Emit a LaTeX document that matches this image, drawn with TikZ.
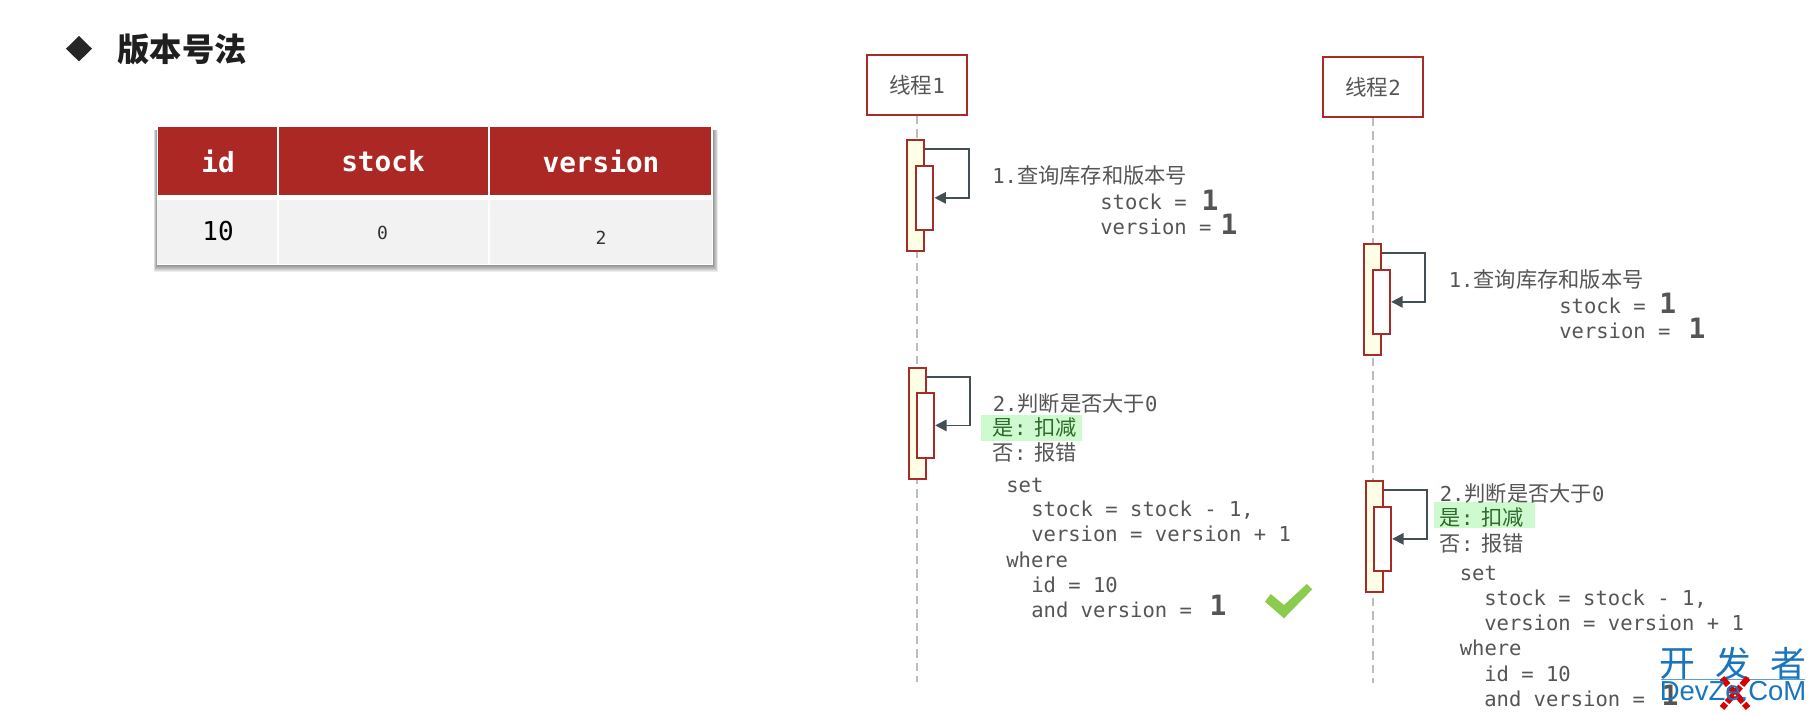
\documentclass[tikz,border=0pt]{standalone}
\usepackage{fontspec}
\setmainfont{DejaVu Sans Mono}
\newfontfamily\cjk[Scale=1.035]{Noto Sans CJK SC}
\newfontfamily\lib{Liberation Sans}
\usetikzlibrary{arrows.meta}
\definecolor{rd}{HTML}{A92B27}
\definecolor{hdr}{HTML}{AB2825}
\definecolor{cellg}{HTML}{F2F2F2}
\definecolor{ink}{HTML}{555555}
\definecolor{arr}{HTML}{434F54}
\definecolor{life}{HTML}{BDBDBD}
\definecolor{actf}{HTML}{FFFFE6}
\definecolor{grbg}{HTML}{CFFACF}
\definecolor{grtx}{HTML}{2B6B2B}
\definecolor{chk}{HTML}{8CCB4E}
\definecolor{wm}{HTML}{1976BE}
\tikzset{
 x=0.75pt,y=-0.75pt,
 thread/.style={draw=rd,line width=1.5pt,fill=white,minimum width=75.5pt,minimum height=45pt,inner sep=0pt,text=ink,font=\fontsize{15.6}{18}\selectfont},
 actbox/.style={draw=rd,line width=1.5pt,fill=actf,minimum width=13pt,minimum height=83.5pt,inner sep=0pt},
 innerbox/.style={draw=rd,line width=1.5pt,fill=white,minimum width=13pt,minimum height=48.2pt,inner sep=0pt},
 lifeline/.style={draw=life,line width=1.5pt,dash pattern=on 6.2pt off 3.8pt},
 selfarrow/.style={draw=arr,line width=1.3pt,-{Triangle[length=8.5pt,width=8.5pt]}},
 txt/.style={anchor=west,inner sep=0pt,text=ink,text height=12.2pt,text depth=0pt,font=\fontsize{15.4}{18}\selectfont},
 big/.style={inner sep=0pt,text=ink,font=\fontsize{21}{22}\selectfont\bfseries},
 htext/.style={inner sep=0pt,text=white,font=\fontsize{20.8}{22}\selectfont\bfseries},
 wmch/.style={inner sep=0pt,text=wm,font=\fontsize{26}{28}\selectfont\cjk},
 xline/.style={draw=red!85!black,line width=4.5pt,dash pattern=on 7pt off 1.5pt},
}
\begin{document}
\begin{tikzpicture}
\useasboundingbox (0,0) rectangle (1816,714);
\fill[white] (0,0) rectangle (1816,714);
% title
\fill[black!85] (66,48.7) -- (79,36) -- (92,48.7) -- (79,61.4) -- cycle;
\node[inner sep=0pt,text=black!88,font=\fontsize{23.4}{26}\selectfont\cjk\bfseries] (titletext) at (182,49) {版本号法};
% table shadow
\foreach \i in {0,...,7}{
 \fill[black,opacity=0.07] (157-\i*0.5,130) rectangle (713+\i*0.7,265+\i);
}
\fill[white] (157,125) rectangle (712.6,265.3);
\fill[hdr] (158,126.7) rectangle (276.5,194.7);
\fill[hdr] (278.5,126.7) rectangle (488,194.7);
\fill[hdr] (490,126.7) rectangle (711,194.7);
\fill[cellg] (157,200) rectangle (276.5,264);
\fill[cellg] (278.5,200) rectangle (488,264);
\fill[cellg] (490,200) rectangle (712,264);
\node[htext] (hid) at (218,161) {id};
\node[htext] (hstock) at (383,161) {stock};
\node[htext] (hver) at (601,161) {version};
\node[inner sep=0pt,text=black,font=\fontsize{19.5}{22}\selectfont] (c10) at (218,231) {10};
\node[inner sep=0pt,text=black!80,font=\fontsize{13.5}{15}\selectfont] (c0) at (382.5,233.3) {0};
\node[inner sep=0pt,text=black!80,font=\fontsize{13.5}{15}\selectfont] (c2) at (601,237.7) {2};
% thread 1
\node[thread] (t1) at (917,85) {{\cjk 线程}1};
\coordinate (e1) at (917,682);
\draw[lifeline] (t1.south) -- (e1);
\node[actbox] (a1) at (915.6,195.3) {};
\node[innerbox] (b1) at (924.8,197.85) {};
\coordinate (r1) at (969.3,148.7);
\coordinate (s1) at (a1.east |- r1);
\draw[selfarrow] (s1) -- (r1) |- (b1.east);
\node[txt] (l1) at (992,175.7) {1.{\cjk 查询库存和版本号}};
\node[txt] (l2) at (1100,201.7) {stock =};
\node[txt] (l3) at (1100,226.7) {version =};
\node[big] (n1) at (1210,200) {1};
\node[big] (n2) at (1229,224.7) {1};
\node[actbox] (a3) at (917.6,423.3) {};
\node[innerbox] (b3) at (925.5,425.4) {};
\coordinate (r3) at (970.3,376.7);
\coordinate (s3) at (a3.east |- r3);
\draw[selfarrow] (s3) -- (r3) |- (b3.east);
\node[txt] (m1) at (992.5,403.3) {2.{\cjk 判断是否大于}0};
\node[fill=grbg,minimum width=75.75pt,minimum height=19.5pt,inner sep=0pt] (g1) at (1031.5,428) {};
\node[txt,text=grtx] (m2) at (992.5,427.3) {{\cjk 是}:\kern 6pt{\cjk 扣减}};
\node[txt] (m3) at (992.5,452.7) {{\cjk 否}:\kern 6pt{\cjk 报错}};
\node[txt] (m4) at (1006,484) {set};
\node[txt] (m5) at (1031,508.7) {stock = stock - 1,};
\node[txt] (m6) at (1031,533.7) {version = version + 1};
\node[txt] (m7) at (1006,559) {where};
\node[txt] (m8) at (1031,584.3) {id = 10};
\node[txt] (m9) at (1031,609.3) {and version =};
\node[big] (n3) at (1218,605.7) {1};
\fill[chk] (1265,601.7) -- (1284,618.3) -- (1312.3,589.3) -- (1306.7,584) -- (1284,605) -- (1270.7,594) -- cycle;
% thread 2
\node[thread] (t2) at (1373,87) {{\cjk 线程}2};
\coordinate (e2) at (1373,683);
\draw[lifeline] (t2.south) -- (e2);
\node[actbox] (a2) at (1372.6,299.3) {};
\node[innerbox] (b2) at (1381.5,301.85) {};
\coordinate (r2) at (1425.3,252.7);
\coordinate (s2) at (a2.east |- r2);
\draw[selfarrow] (s2) -- (r2) |- (b2.east);
\node[txt] (p1) at (1448.5,279) {1.{\cjk 查询库存和版本号}};
\node[txt] (p2) at (1559,305) {stock =};
\node[txt] (p3) at (1559,330) {version =};
\node[big] (n4) at (1667.7,303.3) {1};
\node[big] (n5) at (1697,328) {1};
\node[actbox] (a4) at (1374.5,536.5) {};
\node[innerbox] (b4) at (1382.5,538.85) {};
\coordinate (r4) at (1427.3,490);
\coordinate (s4) at (a4.east |- r4);
\draw[selfarrow] (s4) -- (r4) |- (b4.east);
\node[fill=grbg,minimum width=75.75pt,minimum height=19.5pt,inner sep=0pt] (g2) at (1484.5,515) {};
\node[txt] (q1) at (1439.5,493.3) {2.{\cjk 判断是否大于}0};
\node[txt,text=grtx] (q2) at (1439.5,517.3) {{\cjk 是}:\kern 6pt{\cjk 扣减}};
\node[txt] (q3) at (1439.5,543.3) {{\cjk 否}:\kern 6pt{\cjk 报错}};
\node[txt] (q4) at (1459.5,572.7) {set};
\node[txt] (q5) at (1484,597.7) {stock = stock - 1,};
\node[txt] (q6) at (1484,622.7) {version = version + 1};
\node[txt] (q7) at (1459.5,647.7) {where};
\node[txt] (q8) at (1484,673.3) {id = 10};
\node[txt] (q9) at (1484,698.3) {and version =};
\node[big] (n6) at (1670,695.7) {1};
% watermark
\node[wmch] (w1) at (1677,664) {开};
\node[wmch] (w2) at (1733,664) {发};
\node[wmch] (w3) at (1788,664) {者};
\draw[wm!70,line width=0.8pt] (1661,679.3) -- (1805,679.3);
\draw[xline] (1722,678) -- (1748,708);
\draw[xline] (1748,678) -- (1722,708);
\node[inner sep=0pt,text=wm,font=\fontsize{20.6}{22}\selectfont\lib] (w4) at (1733,691) {DevZe.CoM};
\end{tikzpicture}
\end{document}
